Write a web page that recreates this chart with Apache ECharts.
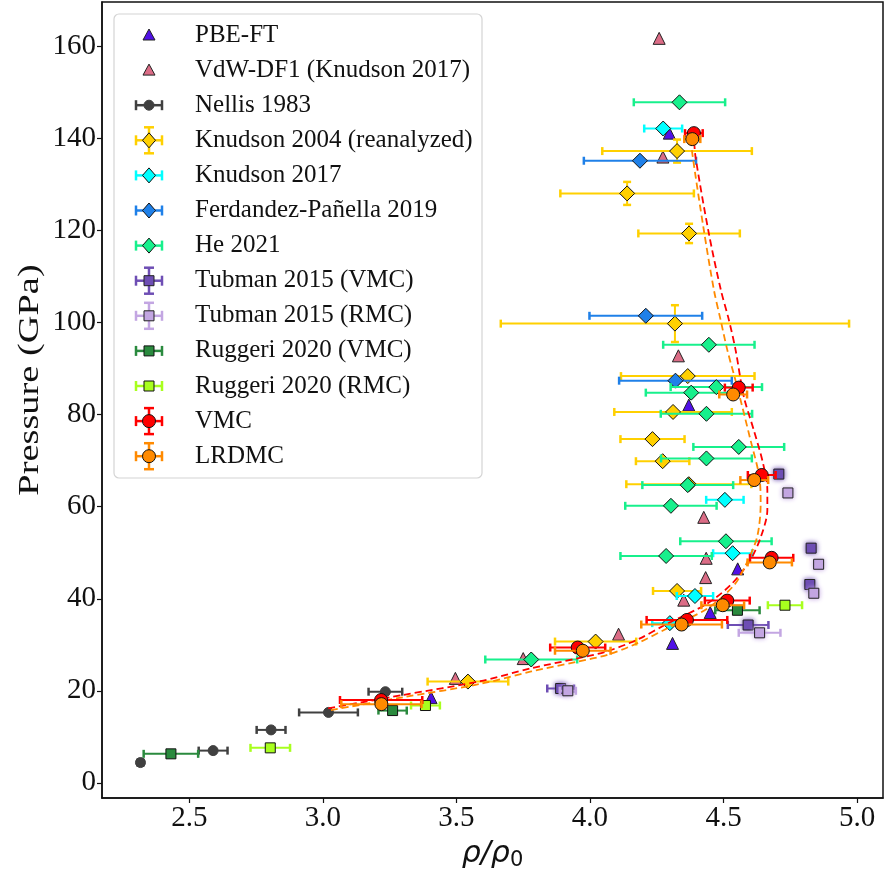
<!DOCTYPE html>
<html>
<head>
<meta charset="utf-8">
<script src="https://cdn.jsdelivr.net/npm/echarts@6/dist/echarts.min.js"></script>
<style>
  html, body { margin: 0; padding: 0; background: #fff; }
  #main { width: 886px; height: 875px; }
</style>
</head>
<body>
<div id="main"></div>
<script>
// ---- data: [rho/rho0, pressure (GPa), x error, y error] ----
var pbeFT = [[4.297, 141.2], [4.370, 82.1], [4.553, 46.5], [4.450, 37.0], [4.309, 30.3], [3.405, 18.5]];
var vdwDF1 = [[4.259, 161.8], [4.273, 136.0], [4.331, 92.8], [4.426, 57.7], [4.435, 48.8], [4.433, 44.6],
              [4.351, 39.7], [4.107, 32.3], [3.750, 27.0], [3.496, 22.7]];
var nellis1983 = [[2.317, 4.4, 0.01, 0.6], [2.589, 7.0, 0.054, 0], [2.806, 11.5, 0.054, 0],
                  [3.021, 15.3, 0.11, 0], [3.234, 19.8, 0.063, 0]];
var knudson2004 = [[4.326, 137.3, 0.28, 2.5], [4.139, 128.1, 0.25, 2.5], [4.371, 119.4, 0.19, 2.1],
                   [4.318, 99.8, 0.652, 4.0], [4.366, 88.4, 0.25, 0], [4.311, 80.6, 0.22, 0],
                   [4.234, 74.7, 0.12, 0], [4.272, 69.9, 0.10, 0], [4.370, 64.9, 0.234, 0],
                   [4.326, 41.7, 0.09, 0], [4.021, 30.7, 0.152, 0], [3.543, 22.0, 0.151, 0]];
var knudson2017 = [[4.274, 142.2, 0.071, 0], [4.505, 61.5, 0.070, 0], [4.534, 49.9, 0.073, 0],
                   [4.393, 40.6, 0.068, 0], [4.299, 34.7, 0.066, 0]];
var fernandez2019 = [[4.187, 135.2, 0.21, 0], [4.209, 101.5, 0.211, 0], [4.320, 87.4, 0.211, 0]];
var he2021 = [[4.335, 147.9, 0.171, 0], [4.445, 95.2, 0.171, 0], [4.473, 86.0, 0.171, 0],
              [4.379, 84.8, 0.17, 0], [4.436, 80.2, 0.171, 0], [4.557, 73.0, 0.17, 0],
              [4.436, 70.5, 0.17, 0], [4.366, 64.7, 0.17, 0], [4.303, 60.2, 0.171, 0],
              [4.509, 52.5, 0.171, 0], [4.285, 49.3, 0.171, 0], [3.780, 26.8, 0.172, 0]];
var tubmanVMC = [[4.707, 67.1, 0, 0], [4.828, 51.0, 0, 0], [4.823, 43.1, 0, 0],
                 [4.592, 34.3, 0.076, 0], [3.890, 20.5, 0.05, 0]];
var tubmanRMC = [[4.741, 63.0, 0, 0], [4.856, 47.5, 0, 0], [4.838, 41.2, 0, 0],
                 [4.635, 32.6, 0.078, 0], [3.917, 20.0, 0.03, 0]];
var ruggeriVMC = [[2.431, 6.3, 0.102, 0], [3.261, 15.7, 0.053, 0], [4.552, 37.5, 0.083, 0]];
var ruggeriRMC = [[2.803, 7.6, 0.074, 0], [3.384, 16.8, 0.054, 0], [4.730, 38.6, 0.064, 0]];
var vmc = [[3.218, 18.0, 0.154, 0.5], [3.954, 29.4, 0.103, 0.5], [4.363, 35.4, 0.151, 0.5],
           [4.514, 39.6, 0.084, 0.5], [4.680, 48.9, 0.081, 0.5], [4.643, 66.9, 0.052, 0.6],
           [4.557, 85.9, 0.052, 0.6], [4.389, 141.2, 0.033, 0.8]];
var lrdmc = [[3.219, 17.1, 0.15, 0.5], [3.973, 28.7, 0.104, 0.5], [4.343, 34.4, 0.151, 0.5],
             [4.497, 38.6, 0.08, 0.5], [4.673, 47.9, 0.083, 0.5], [4.615, 65.8, 0.052, 0.6],
             [4.536, 84.4, 0.052, 0.6], [4.383, 139.9, 0.03, 0.8]];

// dashed fit curves
var vmcFitX = [3.02, 3.30, 3.59, 3.78, 3.95, 4.06, 4.18, 4.29, 4.44, 4.53, 4.60, 4.64, 4.664, 4.664,
               4.648, 4.613, 4.576, 4.545, 4.520, 4.490, 4.445, 4.395, 4.389];
var vmcFitY = [16.2, 19.1, 22.1, 24.9, 27.0, 28.5, 31.2, 34.6, 39.0, 43.2, 48.4, 53.5, 59.3, 63.6,
               69.4, 76.7, 83.9, 94.1, 100.6, 107.1, 119.4, 136.1, 140.5];
var lrdmcFitX = [3.03, 3.30, 3.59, 3.78, 3.95, 4.07, 4.18, 4.29, 4.44, 4.54, 4.586, 4.626, 4.639, 4.634,
                 4.601, 4.551, 4.514, 4.489, 4.464, 4.426, 4.383, 4.380];
var lrdmcFitY = [15.8, 18.6, 21.5, 24.2, 26.3, 27.9, 30.4, 33.6, 37.9, 43.0, 47.7, 53.5, 60.7, 66.5,
                 74.5, 86.1, 94.1, 100.6, 107.1, 120.2, 136.8, 139.5];

var xTicks = [2.5, 3.0, 3.5, 4.0, 4.5, 5.0];
var yTicks = [0, 20, 40, 60, 80, 100, 120, 140, 160];

var legendNames = ['PBE-FT', 'VdW-DF1 (Knudson 2017)', 'Nellis 1983', 'Knudson 2004 (reanalyzed)',
                   'Knudson 2017', 'Ferdandez-Pañella 2019', 'He 2021', 'Tubman 2015 (VMC)',
                   'Tubman 2015 (RMC)', 'Ruggeri 2020 (VMC)', 'Ruggeri 2020 (RMC)', 'VMC', 'LRDMC'];

// ---- styles ----
var sets = [
  { data: pbeFT, color: '#5010e6', symbol: 'triangle', size: 12, edge: '#222', bars: 'none' },
  { data: vdwDF1, color: '#db6c86', symbol: 'triangle', size: 12, edge: '#222', bars: 'none' },
  { data: nellis1983, color: '#404040', symbol: 'circle', size: 10, edge: '#404040', bars: 'x' },
  { data: knudson2004, color: '#ffd000', symbol: 'diamond', size: 15, edge: '#111', bars: 'xy' },
  { data: knudson2017, color: '#00ffff', symbol: 'diamond', size: 15, edge: '#111', bars: 'x' },
  { data: fernandez2019, color: '#1f80e8', symbol: 'diamond', size: 15, edge: '#111', bars: 'x' },
  { data: he2021, color: '#17f08c', symbol: 'diamond', size: 15, edge: '#111', bars: 'x' },
  { data: tubmanVMC, color: '#6e4eb4', symbol: 'rect', size: 10, edge: '#222', bars: 'xy', halo: true },
  { data: tubmanRMC, color: '#c3a6e2', symbol: 'rect', size: 10, edge: '#222', bars: 'xy', halo: true },
  { data: ruggeriVMC, color: '#2a8a3e', symbol: 'rect', size: 10, edge: '#111', bars: 'x' },
  { data: ruggeriRMC, color: '#a8ff1e', symbol: 'rect', size: 10, edge: '#111', bars: 'x' },
  { data: vmc, color: '#ff0000', symbol: 'circle', size: 13, edge: '#111', bars: 'xy' },
  { data: lrdmc, color: '#ff8a00', symbol: 'circle', size: 13, edge: '#111', bars: 'xy' }
];

var CAP = 4;

function errRender(color) {
  return function (params, api) {
    var x = api.value(0), y = api.value(1), ex = api.value(2), ey = api.value(3);
    var c = api.coord([x, y]);
    var st = { stroke: color, lineWidth: 2 };
    var capSt = { stroke: color, lineWidth: 2.5 };
    var kids = [];
    if (ex > 0) {
      var l = api.coord([x - ex, y])[0], r = api.coord([x + ex, y])[0];
      kids.push({ type: 'line', shape: { x1: l, y1: c[1], x2: r, y2: c[1] }, style: st });
      kids.push({ type: 'line', shape: { x1: l, y1: c[1] - CAP, x2: l, y2: c[1] + CAP }, style: capSt });
      kids.push({ type: 'line', shape: { x1: r, y1: c[1] - CAP, x2: r, y2: c[1] + CAP }, style: capSt });
    }
    if (ey > 0) {
      var t = api.coord([x, y + ey])[1], b = api.coord([x, y - ey])[1];
      kids.push({ type: 'line', shape: { x1: c[0], y1: t, x2: c[0], y2: b }, style: st });
      kids.push({ type: 'line', shape: { x1: c[0] - CAP, y1: t, x2: c[0] + CAP, y2: t }, style: capSt });
      kids.push({ type: 'line', shape: { x1: c[0] - CAP, y1: b, x2: c[0] + CAP, y2: b }, style: capSt });
    }
    return { type: 'group', children: kids };
  };
}

var series = [];
sets.forEach(function (s, i) {
  var top = (i >= 11) ? 30 : 0;  // VMC / LRDMC above the fit curves
  if (s.bars !== 'none') {
    series.push({
      type: 'custom', name: legendNames[i], data: s.data, z: 2 + i * 2 + top,
      renderItem: errRender(s.color), silent: true
    });
  }
  var sc = {
    type: 'scatter', name: legendNames[i], data: s.data, symbol: s.symbol, symbolSize: s.size,
    z: 3 + i * 2 + top,
    itemStyle: { color: s.color, borderColor: s.edge, borderWidth: 1, opacity: 1 }
  };
  if (s.halo) {
    sc.itemStyle.shadowBlur = 5;
    sc.itemStyle.shadowColor = s.color;
  }
  series.push(sc);
});

function fitData(xs, ys) {
  return xs.map(function (x, k) { return [x, ys[k]]; });
}
series.push({
  type: 'line', name: 'vmcFit', data: fitData(vmcFitX, vmcFitY), smooth: 0.3, symbol: 'none', z: 28,
  lineStyle: { color: '#ff0000', width: 1.8, type: [7, 4] }
});
series.push({
  type: 'line', name: 'lrdmcFit', data: fitData(lrdmcFitX, lrdmcFitY), smooth: 0.3, symbol: 'none', z: 28,
  lineStyle: { color: '#ff8a00', width: 1.8, type: [7, 4] }
});

// ---- legend drawn by hand (error-bar icons) ----
var LX = 149, LY0 = 35, LDY = 35.1;
var extra = [{
  type: 'rect', shape: { x: 114, y: 14, width: 368, height: 464, r: 5 },
  style: { fill: 'rgba(255,255,255,0.85)', stroke: '#d4d4d4', lineWidth: 1.2 }, z: 100
}];
sets.forEach(function (s, i) {
  var cy = LY0 + i * LDY;
  var st = { stroke: s.color, lineWidth: 2.5 };
  if (s.bars.indexOf('x') >= 0) {
    extra.push({ type: 'line', shape: { x1: LX - 13, y1: cy, x2: LX + 13, y2: cy }, style: st, z: 101 });
    extra.push({ type: 'line', shape: { x1: LX - 13, y1: cy - CAP - 1, x2: LX - 13, y2: cy + CAP + 1 }, style: st, z: 101 });
    extra.push({ type: 'line', shape: { x1: LX + 13, y1: cy - CAP - 1, x2: LX + 13, y2: cy + CAP + 1 }, style: st, z: 101 });
  }
  if (s.bars.indexOf('y') >= 0) {
    extra.push({ type: 'line', shape: { x1: LX, y1: cy - 13, x2: LX, y2: cy + 13 }, style: st, z: 101 });
    extra.push({ type: 'line', shape: { x1: LX - CAP - 1, y1: cy - 13, x2: LX + CAP + 1, y2: cy - 13 }, style: st, z: 101 });
    extra.push({ type: 'line', shape: { x1: LX - CAP - 1, y1: cy + 13, x2: LX + CAP + 1, y2: cy + 13 }, style: st, z: 101 });
  }
  var m, sz = s.size;
  var fill = { fill: s.color, stroke: s.edge, lineWidth: 1 };
  if (s.symbol === 'triangle') {
    m = { type: 'polygon', shape: { points: [[LX, cy - sz / 2], [LX + sz / 2, cy + sz / 2 - 1], [LX - sz / 2, cy + sz / 2 - 1]] }, style: fill };
  } else if (s.symbol === 'diamond') {
    m = { type: 'polygon', shape: { points: [[LX, cy - sz / 2], [LX + sz / 2 - 1, cy], [LX, cy + sz / 2], [LX - sz / 2 + 1, cy]] }, style: fill };
  } else if (s.symbol === 'rect') {
    m = { type: 'rect', shape: { x: LX - sz / 2, y: cy - sz / 2, width: sz, height: sz }, style: fill };
  } else {
    m = { type: 'circle', shape: { cx: LX, cy: cy, r: sz / 2 }, style: fill };
  }
  m.z = 102;
  extra.push(m);
  extra.push({
    type: 'text', x: 195, y: cy, z: 102,
    style: { text: legendNames[i], fill: '#111', font: '25px "Liberation Serif"', verticalAlign: 'middle', align: 'left' }
  });
});
// y axis title, stretched along its length like the original
extra.push({
  type: 'text', x: 30, y: 380, rotation: Math.PI / 2, scaleX: 1.28, z: 50,
  style: { text: 'Pressure (GPa)', fill: '#111', font: '30px "Liberation Serif"', align: 'center', verticalAlign: 'middle' }
});

var chart = echarts.init(document.getElementById('main'), null, { renderer: 'canvas' });
chart.setOption({
  animation: false,
  backgroundColor: '#fff',
  grid: {
    left: 102, right: 3, top: 2, bottom: 77, outerBoundsMode: 'none', containLabel: false,
    show: true, borderColor: '#111', borderWidth: 1.5, backgroundColor: 'transparent'
  },
  xAxis: {
    type: 'value', min: 2.173, max: 5.097,
    name: '{i|ρ/ρ}{s|0}', nameLocation: 'middle', nameGap: 40,
    nameTextStyle: {
      rich: {
        i: { fontFamily: 'DejaVu Sans', fontStyle: 'italic', fontSize: 30, color: '#111' },
        s: { fontFamily: 'DejaVu Sans', fontSize: 21, color: '#111', verticalAlign: 'bottom', padding: [12, 0, 0, 0] }
      }
    },
    splitLine: { show: false },
    axisLine: { show: true, onZero: false, lineStyle: { color: '#111', width: 1.5 } },
    axisTick: { show: true, length: 5, customValues: xTicks, lineStyle: { color: '#111', width: 1.2 } },
    axisLabel: {
      customValues: xTicks, margin: 6, color: '#111', fontFamily: 'Liberation Serif', fontSize: 29,
      formatter: function (v) { return v.toFixed(1); }
    }
  },
  yAxis: {
    type: 'value', min: -3.3, max: 169.7,
    splitLine: { show: false },
    axisLine: { show: true, onZero: false, lineStyle: { color: '#111', width: 1.5 } },
    axisTick: { show: true, length: 5, customValues: yTicks, lineStyle: { color: '#111', width: 1.2 } },
    axisLabel: { customValues: yTicks, margin: 6, color: '#111', fontFamily: 'Liberation Serif', fontSize: 29 }
  },
  graphic: extra,
  series: series
});
</script>
</body>
</html>
